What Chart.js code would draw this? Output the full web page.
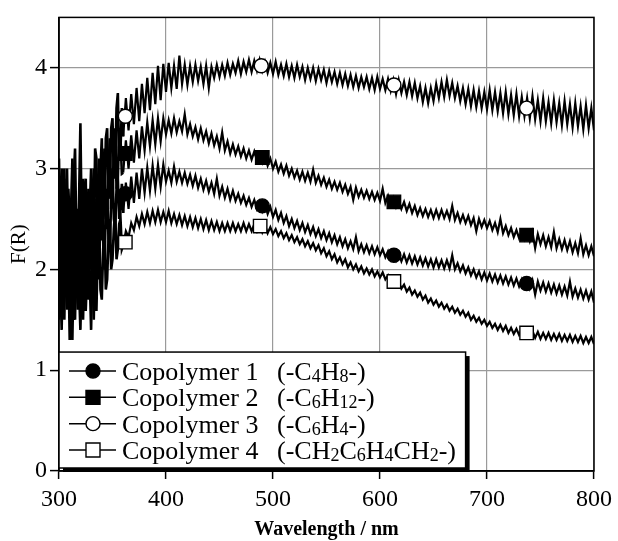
<!DOCTYPE html>
<html>
<head>
<meta charset="utf-8">
<script src="https://cdn.jsdelivr.net/npm/chart.js@4/dist/chart.umd.min.js"></script>
<style>
  html, body { margin: 0; padding: 0; background: #fff; }
  #wrap { width: 618px; height: 541px; }
</style>
</head>
<body>
<div id="wrap"><canvas id="c" width="618" height="541"></canvas></div>
<script>
// ---- data ----
const wavelengths = [
  300,301.25,302.5,303.75,305,306.25,307.5,308.75,
  310,311.25,312.5,313.75,315,316.25,317.5,318.75,
  320,321.25,322.5,323.75,325,326.25,327.5,328.75,
  330,331.25,332.5,333.75,335,336.25,337.5,338.75,
  340,341.25,342.5,343.75,345,346.25,347.5,348.75,
  350,351.25,352.5,353.75,355,356.25,357.5,358.75,
  360,362.5,365,367.5,370,372.5,375,377.5,
  380,382.5,385,387.5,390,392.5,395,397.5,
  400,402.5,405,407.5,410,412.5,415,417.5,
  420,422.5,425,427.5,430,432.5,435,437.5,
  440,442.5,445,447.5,450,452.5,455,457.5,
  460,462.5,465,467.5,470,472.5,475,477.5,
  480,482.5,485,487.5,490,492.5,495,497.5,
  500,502.5,505,507.5,510,512.5,515,517.5,
  520,522.5,525,527.5,530,532.5,535,537.5,
  540,542.5,545,547.5,550,552.5,555,557.5,
  560,562.5,565,567.5,570,572.5,575,577.5,
  580,582.5,585,587.5,590,592.5,595,597.5,
  600,602.5,605,607.5,610,612.5,615,617.5,
  620,622.5,625,627.5,630,632.5,635,637.5,
  640,642.5,645,647.5,650,652.5,655,657.5,
  660,662.5,665,667.5,670,672.5,675,677.5,
  680,682.5,685,687.5,690,692.5,695,697.5,
  700,702.5,705,707.5,710,712.5,715,717.5,
  720,722.5,725,727.5,730,732.5,735,737.5,
  740,742.5,745,747.5,750,752.5,755,757.5,
  760,762.5,765,767.5,770,772.5,775,777.5,
  780,782.5,785,787.5,790,792.5,795,797.5,
  800
];

const copolymer1 = [
  2.6,1.9,1.4,2.3,3.0,2.2,1.8,2.8,
  2.5,1.6,1.3,2.1,2.7,2.0,1.6,2.4,
  2.9,2.1,1.5,2.2,2.6,1.9,1.7,2.5,
  2.8,2.0,1.5,2.3,2.7,2.1,1.9,2.6,
  2.9,2.3,2.0,2.6,2.8,2.3,2.2,2.7,
  3.0,2.5,2.4,2.8,2.9,2.5,2.6,2.85,
  2.56,2.86,2.60,2.92,2.66,2.96,2.70,3.00,
  2.76,3.01,2.78,3.03,2.80,3.04,2.82,3.04,
  2.87,2.98,2.86,3.02,2.87,2.97,2.86,2.96,
  2.85,2.94,2.83,2.93,2.81,2.90,2.79,2.88,
  2.77,2.86,2.75,2.90,2.73,2.82,2.71,2.80,
  2.69,2.78,2.68,2.75,2.66,2.73,2.64,2.71,
  2.62,2.69,2.60,2.67,2.58,2.65,2.55,2.62,
  2.52,2.59,2.49,2.56,2.46,2.53,2.43,2.50,
  2.41,2.48,2.39,2.46,2.37,2.44,2.35,2.42,
  2.33,2.40,2.31,2.38,2.29,2.36,2.27,2.34,
  2.25,2.32,2.23,2.30,2.21,2.28,2.20,2.32,
  2.18,2.25,2.17,2.24,2.16,2.23,2.15,2.22,
  2.14,2.20,2.12,2.18,2.10,2.17,2.09,2.16,
  2.08,2.15,2.07,2.14,2.06,2.13,2.05,2.12,
  2.04,2.11,2.03,2.10,2.02,2.10,2.02,2.09,
  2.01,2.09,2.01,2.14,2.00,2.06,1.98,2.04,
  1.96,2.02,1.94,2.00,1.92,1.98,1.90,1.97,
  1.89,1.96,1.88,1.95,1.87,1.94,1.86,1.93,
  1.85,1.92,1.84,1.91,1.83,1.90,1.82,1.89,
  1.81,1.89,1.75,1.88,1.79,1.87,1.78,1.86,
  1.77,1.85,1.76,1.84,1.75,1.83,1.74,1.88,
  1.73,1.81,1.72,1.80,1.71,1.79,1.70,1.78,
  1.67
];

const copolymer2 = [
  2.2,2.7,3.0,2.1,1.5,2.4,2.8,1.9,
  1.7,2.6,3.1,2.2,1.5,2.3,2.6,1.7,
  1.8,2.5,2.9,2.0,1.6,2.4,2.8,2.1,
  2.0,2.7,3.0,2.2,1.9,2.6,3.1,2.3,
  2.3,2.9,3.2,2.4,2.5,3.0,3.3,2.6,
  2.7,3.2,3.4,2.8,2.9,3.4,3.3,2.95,
  2.96,3.28,3.00,3.33,3.06,3.38,3.10,3.42,
  3.18,3.46,3.22,3.48,3.24,3.50,3.27,3.50,
  3.34,3.48,3.35,3.50,3.36,3.47,3.37,3.54,
  3.34,3.44,3.32,3.41,3.29,3.40,3.28,3.37,
  3.25,3.35,3.23,3.32,3.20,3.36,3.18,3.27,
  3.15,3.24,3.14,3.22,3.12,3.20,3.10,3.18,
  3.09,3.17,3.08,3.15,3.06,3.13,3.03,3.10,
  3.00,3.07,2.97,3.04,2.95,3.03,2.93,3.00,
  2.91,2.98,2.89,2.97,2.88,2.96,2.87,2.99,
  2.86,2.93,2.84,2.91,2.82,2.89,2.80,2.87,
  2.79,2.86,2.77,2.84,2.75,2.82,2.69,2.81,
  2.72,2.79,2.71,2.78,2.70,2.77,2.69,2.76,
  2.68,2.80,2.66,2.73,2.64,2.71,2.62,2.69,
  2.60,2.67,2.58,2.65,2.56,2.63,2.54,2.61,
  2.53,2.60,2.52,2.59,2.51,2.59,2.51,2.59,
  2.51,2.58,2.50,2.63,2.49,2.56,2.47,2.54,
  2.46,2.53,2.44,2.51,2.38,2.50,2.42,2.49,
  2.41,2.48,2.39,2.46,2.37,2.50,2.36,2.43,
  2.34,2.41,2.32,2.39,2.31,2.38,2.30,2.37,
  2.28,2.37,2.21,2.35,2.25,2.34,2.23,2.32,
  2.22,2.37,2.21,2.30,2.20,2.29,2.19,2.28,
  2.17,2.26,2.16,2.31,2.15,2.24,2.14,2.23,
  2.13
];

const copolymer3 = [
  3.1,2.2,1.8,2.6,2.9,2.0,1.6,2.5,
  2.7,1.7,2.0,2.9,3.2,2.3,1.9,2.7,
  3.45,2.4,2.1,2.8,2.9,2.0,1.8,2.6,
  3.0,2.1,2.3,3.2,3.1,2.2,2.4,3.0,
  3.3,2.5,2.6,3.3,3.4,2.7,2.8,3.4,
  3.5,2.9,3.0,3.6,3.75,3.1,3.2,3.6,
  3.32,3.70,3.38,3.74,3.44,3.80,3.47,3.84,
  3.55,3.90,3.58,3.95,3.64,4.02,3.68,4.04,
  3.76,4.05,3.80,4.02,3.79,4.12,3.84,4.03,
  3.83,4.02,3.86,4.03,3.87,4.01,3.84,4.02,
  3.80,4.01,3.90,4.03,3.91,4.03,3.92,4.05,
  3.93,4.04,3.95,4.07,3.94,4.06,3.96,4.08,
  3.96,4.07,3.97,4.08,3.97,4.06,3.95,4.05,
  3.94,4.06,3.93,4.03,3.92,4.04,3.91,4.02,
  3.90,4.03,3.91,4.01,3.88,4.00,3.89,4.00,
  3.87,3.99,3.88,3.98,3.85,3.97,3.86,3.96,
  3.84,3.95,3.83,3.94,3.82,3.93,3.81,3.92,
  3.80,3.91,3.81,3.91,3.79,3.90,3.78,3.91,
  3.79,3.89,3.78,3.89,3.77,3.88,3.74,3.88,
  3.75,3.86,3.73,3.86,3.72,3.85,3.70,3.82,
  3.66,3.80,3.65,3.80,3.67,3.84,3.70,3.86,
  3.71,3.88,3.72,3.85,3.70,3.82,3.67,3.80,
  3.64,3.79,3.62,3.78,3.61,3.77,3.60,3.76,
  3.59,3.78,3.58,3.76,3.57,3.75,3.55,3.76,
  3.54,3.73,3.53,3.74,3.52,3.71,3.52,3.70,
  3.50,3.72,3.49,3.68,3.47,3.70,3.47,3.66,
  3.45,3.68,3.46,3.65,3.43,3.67,3.44,3.64,
  3.41,3.65,3.42,3.62,3.39,3.63,3.40,3.60,
  3.38
];

const copolymer4 = [
  1.5,2.0,2.6,1.7,1.9,2.4,3.0,2.1,
  1.3,1.9,2.5,1.5,1.7,2.6,2.3,1.8,
  1.4,2.0,2.4,1.6,1.6,2.2,2.7,1.9,
  1.4,2.1,2.3,1.6,1.6,2.2,2.5,1.8,
  1.7,2.2,2.4,1.8,1.9,2.3,2.5,2.0,
  2.1,2.4,2.6,2.1,2.2,2.45,2.5,2.2,
  2.24,2.38,2.32,2.46,2.39,2.52,2.43,2.55,
  2.45,2.57,2.46,2.58,2.47,2.59,2.47,2.57,
  2.47,2.58,2.46,2.55,2.45,2.54,2.44,2.53,
  2.43,2.52,2.42,2.51,2.41,2.50,2.40,2.49,
  2.39,2.48,2.39,2.47,2.38,2.46,2.38,2.46,
  2.38,2.46,2.38,2.45,2.38,2.46,2.38,2.45,
  2.38,2.45,2.38,2.45,2.37,2.44,2.36,2.42,
  2.35,2.40,2.33,2.38,2.31,2.36,2.29,2.34,
  2.27,2.32,2.25,2.30,2.23,2.28,2.21,2.26,
  2.19,2.24,2.16,2.21,2.13,2.18,2.10,2.15,
  2.07,2.12,2.05,2.10,2.02,2.07,2.00,2.05,
  1.98,2.03,1.96,2.01,1.95,2.00,1.93,1.98,
  1.92,1.97,1.90,1.94,1.87,1.91,1.84,1.88,
  1.81,1.85,1.78,1.82,1.75,1.79,1.73,1.77,
  1.70,1.74,1.67,1.71,1.65,1.69,1.63,1.67,
  1.61,1.65,1.59,1.63,1.57,1.61,1.55,1.59,
  1.53,1.57,1.50,1.54,1.48,1.52,1.46,1.50,
  1.44,1.48,1.42,1.46,1.40,1.45,1.39,1.44,
  1.37,1.42,1.36,1.41,1.35,1.40,1.34,1.39,
  1.33,1.39,1.32,1.38,1.31,1.37,1.31,1.37,
  1.30,1.36,1.30,1.36,1.29,1.35,1.29,1.35,
  1.28,1.34,1.28,1.34,1.27,1.33,1.27,1.33,
  1.26
];

// marker positions [wavelength, F(R)]
const markers1 = [[362,2.75],[490,2.63],[613,2.14],[737,1.86]];
const markers2 = [[362,3.15],[490,3.11],[613,2.67],[737,2.34]];
const markers3 = [[362,3.52],[489,4.02],[613,3.83],[737,3.60]];
const markers4 = [[362,2.27],[488,2.43],[613,1.88],[737,1.37]];

const seriesNames = ['Copolymer 1', 'Copolymer 2', 'Copolymer 3', 'Copolymer 4'];
const formulas = ['(-C4H8-)', '(-C6H12-)', '(-C6H4-)', '(-CH2C6H4CH2-)'];

const xTicks = [300, 400, 500, 600, 700, 800];
const yTicks = [0, 1, 2, 3, 4];

// ---- build ----
const serif = "'Liberation Serif', 'Times New Roman', serif";
const seriesValues = [copolymer1, copolymer2, copolymer3, copolymer4];
const seriesMarkers = [markers1, markers2, markers3, markers4];
seriesValues.forEach((v, i) => {
  if (v.length !== wavelengths.length) throw new Error('length mismatch in series ' + (i + 1) + ': ' + v.length + ' vs ' + wavelengths.length);
});
const markerStyle = [
  {shape: 'circle', fill: '#000'},
  {shape: 'rect', fill: '#000'},
  {shape: 'circle', fill: '#fff'},
  {shape: 'rect', fill: '#fff'}
];

const datasets = [];
seriesValues.forEach((vals, i) => {
  datasets.push({
    label: seriesNames[i] + ' ' + formulas[i],
    data: wavelengths.map((w, k) => ({x: w, y: vals[k]})),
    borderColor: '#000',
    borderWidth: 2.2,
    pointRadius: 0,
    tension: 0,
    fill: false,
    order: 2,
    segment: {
      borderWidth: c => (c.p0.parsed.x < 360 ? 2.6 : 2.2)
    }
  });
});
seriesMarkers.forEach((m, i) => {
  const st = markerStyle[i];
  datasets.push({
    label: seriesNames[i] + ' markers',
    data: m.map(p => ({x: p[0], y: p[1]})),
    showLine: false,
    pointStyle: st.shape,
    pointRadius: st.shape === 'rect' ? 9.5 : 7,
    pointBackgroundColor: st.fill,
    pointBorderColor: '#000',
    pointBorderWidth: 1.4,
    order: 1
  });
});

const framePlugin = {
  id: 'frame',
  afterDatasetsDraw(chart) {
    const a = chart.chartArea, ctx = chart.ctx;
    ctx.save();
    ctx.strokeStyle = '#000';
    ctx.lineWidth = 1.5;
    ctx.strokeRect(a.left, a.top, a.right - a.left, a.bottom - a.top);
    ctx.restore();
  }
};

function drawFormula(ctx, text, x, y, size) {
  let cx = x;
  for (const ch of text) {
    if (/[0-9]/.test(ch)) {
      ctx.font = Math.round(size * 0.68) + 'px ' + serif;
      ctx.fillText(ch, cx, y + 2);
      cx += ctx.measureText(ch).width;
    } else {
      ctx.font = size + 'px ' + serif;
      ctx.fillText(ch, cx, y);
      cx += ctx.measureText(ch).width;
    }
  }
}

const legendPlugin = {
  id: 'boxLegend',
  afterDraw(chart) {
    const {ctx, chartArea} = chart;
    const xs = chart.scales.x, ys = chart.scales.y;
    const left = chartArea.left;
    const top = ys.getPixelForValue(1.18);
    const right = xs.getPixelForValue(680);
    const bottom = chartArea.bottom - 3;
    ctx.save();
    ctx.fillStyle = '#000';
    ctx.fillRect(left + 4, top + 4, right - left, bottom - top);
    ctx.fillStyle = '#fff';
    ctx.fillRect(left, top, right - left, bottom - top);
    ctx.strokeStyle = '#000';
    ctx.lineWidth = 1.5;
    ctx.strokeRect(left, top, right - left, bottom - top);

    const size = 26;
    for (let i = 0; i < 4; i++) {
      const cy = top + 19 + i * 26.3;
      ctx.strokeStyle = '#000';
      ctx.lineWidth = 1.5;
      ctx.beginPath();
      ctx.moveTo(left + 10, cy);
      ctx.lineTo(left + 57, cy);
      ctx.stroke();
      const st = markerStyle[i];
      ctx.fillStyle = st.fill;
      ctx.lineWidth = 1.4;
      ctx.beginPath();
      if (st.shape === 'circle') {
        ctx.arc(left + 34, cy, 7, 0, Math.PI * 2);
      } else {
        ctx.rect(left + 34 - 7, cy - 7, 14, 14);
      }
      ctx.fill();
      ctx.stroke();
      ctx.fillStyle = '#000';
      ctx.textBaseline = 'alphabetic';
      ctx.textAlign = 'left';
      ctx.font = size + 'px ' + serif;
      ctx.fillText(seriesNames[i], left + 63, cy + 9);
      drawFormula(ctx, formulas[i], left + 218, cy + 9, size);
    }
    ctx.restore();
  }
};

new Chart(document.getElementById('c'), {
  type: 'line',
  data: { datasets },
  options: {
    responsive: false,
    animation: false,
    events: [],
    layout: { padding: { top: 11, right: 20, left: 0, bottom: 0 } },
    plugins: { legend: { display: false }, tooltip: { enabled: false } },
    scales: {
      x: {
        type: 'linear',
        min: 300, max: 800,
        afterBuildTicks: s => { s.ticks = xTicks.map(v => ({value: v})); },
        afterFit: s => { s.height = 70; },
        grid: { color: '#9a9a9a', lineWidth: 1.2, tickLength: 8, tickColor: '#000', tickWidth: 1.5 },
        border: { color: '#000', width: 1.5 },
        ticks: { color: '#000', font: { family: serif, size: 24 }, padding: 6, maxRotation: 0 },
        title: { display: true, text: 'Wavelength / nm', color: '#000',
                 font: { family: serif, size: 20, weight: 'bold', lineHeight: 1.15 }, padding: { top: 0, bottom: 0 } }
      },
      y: {
        min: 0, max: 4.5,
        afterBuildTicks: s => { s.ticks = yTicks.map(v => ({value: v})); },
        afterFit: s => { s.width = 59; },
        grid: { color: '#9a9a9a', lineWidth: 1.2, tickLength: 9, tickColor: '#000', tickWidth: 1.5 },
        border: { color: '#000', width: 1.5 },
        ticks: { color: '#000', font: { family: serif, size: 24 }, padding: 3 },
        title: { display: true, text: 'F(R)', color: '#000',
                 font: { family: serif, size: 21 }, padding: { top: 7, bottom: 0 } }
      }
    }
  },
  plugins: [framePlugin, legendPlugin]
});
</script>
</body>
</html>
